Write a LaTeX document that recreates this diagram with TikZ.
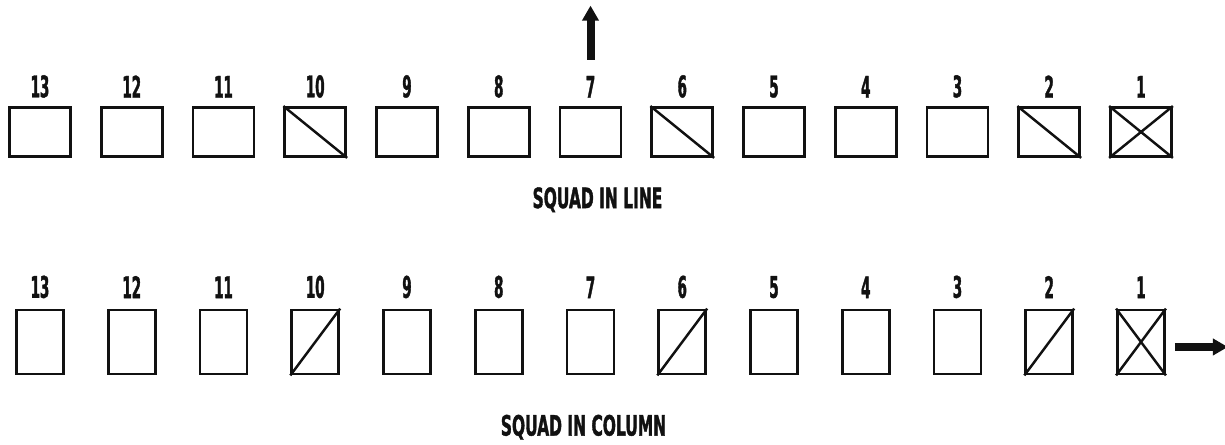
\documentclass[tikz,border=0pt]{standalone}
\usepackage{fontspec}
\usepackage{xcolor}
\usepackage{tikz}
\usetikzlibrary{arrows.meta, positioning}
\newfontfamily\squadfont[FakeStretch=0.55, FakeBold=1.2]{DejaVu Sans}
\newfontfamily\numfont[FakeStretch=0.45, FakeBold=1.2]{DejaVu Sans}
\definecolor{ink}{HTML}{111111}

\tikzset{
  linebox/.style={draw=ink, line width=1.6pt, minimum width=1.22cm, minimum height=0.98cm, inner sep=0pt},
  colbox/.style={draw=ink, line width=1.6pt, minimum width=0.94cm, minimum height=1.28cm, inner sep=0pt},
  slash/.style={draw=ink, line width=1.4pt},
  soldier/.style={font=\numfont\bfseries\fontsize{17}{17}\selectfont, text=ink, inner sep=0pt},
  caption/.style={font=\squadfont\bfseries\fontsize{16}{16}\selectfont, text=ink, inner sep=0pt},
  move/.style={-{Triangle[length=0.3cm, width=0.32cm]}, line width=0.16cm, draw=ink},
}

\begin{document}
\begin{tikzpicture}
  \useasboundingbox (0,0) rectangle (24.5,8.9);
  % Boxes and numbers
  \foreach \n in {1,...,13} {
    \pgfmathsetmacro\xx{0.8+(13-\n)*1.835}
    \node[linebox] (line\n) at (\xx,6.26) {};
    \node[soldier, above=0.16cm of line\n] (lnum\n) {\n};
    \node[colbox] (col\n) at (\xx,2.06) {};
    \node[soldier, above=0.2cm of col\n] (cnum\n) {\n};
  }
  % Marked boxes
  \foreach \n in {1,2,6,10} {
    \draw[slash] (line\n.north west) -- (line\n.south east);
    \draw[slash] (col\n.south west) -- (col\n.north east);
  }
  \draw[slash] (line1.south west) -- (line1.north east);
  \draw[slash] (col1.north west) -- (col1.south east);
  % Captions
  \node[caption, below=0.58cm of line7, xshift=0.14cm] (linecap) {SQUAD IN LINE};
  \node[caption, below=0.78cm of col7, xshift=-0.14cm] (colcap) {SQUAD IN COLUMN};
  % Direction of movement
  \draw[move] ([yshift=0.32cm]lnum7.north) -- ++(0,1.08);
  \draw[move] ([xshift=0.18cm, yshift=-0.1cm]col1.east) -- ++(1.06,0);
\end{tikzpicture}
\end{document}
